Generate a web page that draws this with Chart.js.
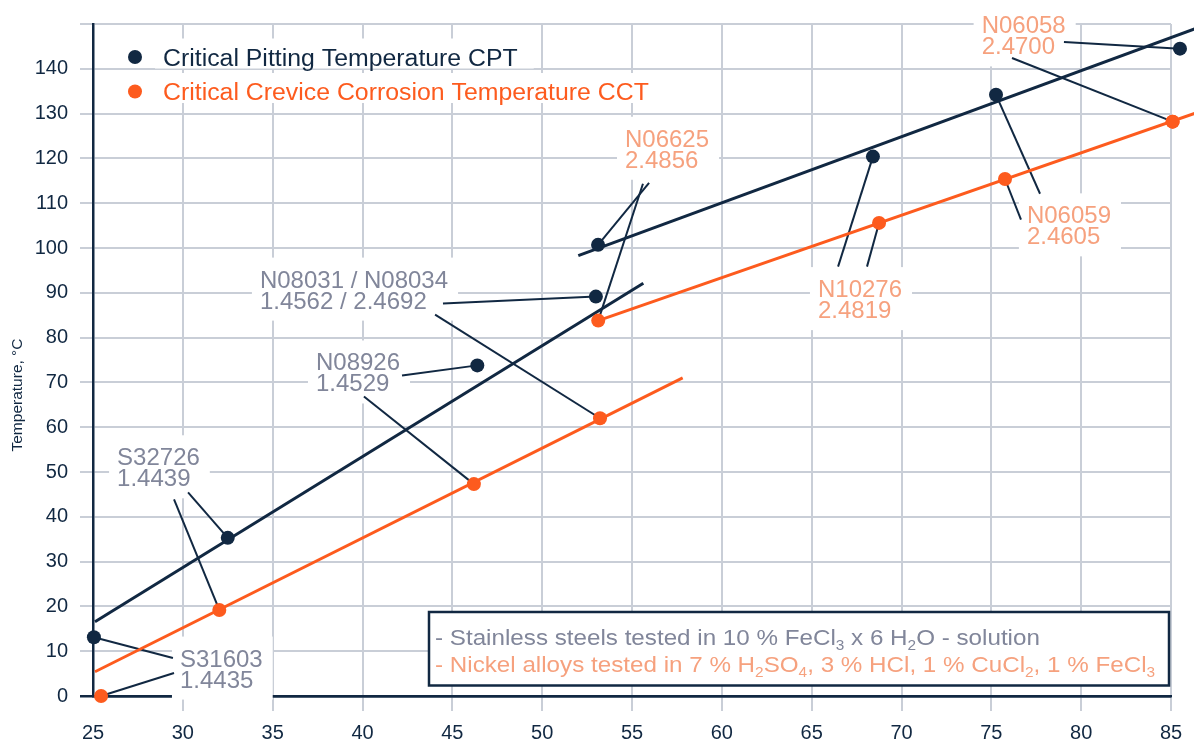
<!DOCTYPE html>
<html>
<head>
<meta charset="utf-8">
<title>CPT / CCT vs PREN</title>
<script src="https://cdn.jsdelivr.net/npm/chart.js@4/dist/chart.umd.min.js"></script>
<style>
  html, body { margin: 0; padding: 0; background: #fff; }
  #wrap { width: 1194px; height: 743px; position: relative; }
</style>
</head>
<body>
<div id="wrap"><canvas id="chart" width="1194" height="743"></canvas></div>
<script>
// ---- data -------------------------------------------------------------
// Grades in ascending PREN order
const gradeNames   = ['S31603', 'S32726', 'N08926', 'N08031 / N08034', 'N06625', 'N10276', 'N06059', 'N06058'];
const gradeNumbers = ['1.4435', '1.4439', '1.4529', '1.4562 / 2.4692', '2.4856', '2.4819', '2.4605', '2.4700'];

// Critical Pitting Temperature (°C) vs PREN
const cptPren = [25.05, 32.5, 46.39, 52.99, 53.11, 68.41, 75.26, 85.5];
const cptTemp = [13.1, 35.3, 73.8, 89.15, 100.7, 120.4, 134.2, 144.5];

// Critical Crevice Corrosion Temperature (°C) vs PREN
const cctPren = [25.45, 32.03, 46.2, 53.22, 53.12, 68.75, 75.76, 85.09];
const cctTemp = [0, 19.2, 47.3, 62.0, 83.8, 105.6, 115.4, 128.2];

// Trend lines: stainless steels and nickel alloys, [PREN, °C] end points
const cptTrendSteel  = [[25.11, 16.56], [55.63, 92.14]];
const cptTrendNickel = [[52.01, 98.29], [86.5, 149.2]];
const cctTrendSteel  = [[25.11, 5.42], [57.82, 71.03]];
const cctTrendNickel = [[53.12, 83.8], [86.5, 130.3]];

// Axis ticks
const xTicks = [25, 30, 35, 40, 45, 50, 55, 60, 65, 70, 75, 80, 85];
const yTicks = [0, 10, 20, 30, 40, 50, 60, 70, 80, 90, 100, 110, 120, 130, 140];

// ---- annotation layout (in axis units) ----------------------------------
// where each grade's caption sits: [PREN, °C] of first-line baseline
const captionAt = [
  [29.84, 6.57], [26.34, 51.5], [37.41, 72.66], [34.29, 91.16],
  [54.61, 122.6], [65.35, 89.04], [76.98, 105.5], [74.46, 147.9]
];
const captionTone = ['steel', 'steel', 'steel', 'steel', 'nickel', 'nickel', 'nickel', 'nickel'];
// leader line origins next to each caption: [to CPT point], [to CCT point]
const leaderFrom = [
  [[29.45, 8.47],  [29.51, 5.13]],
  [[30.29, 45.47], [29.51, 43.91]],
  [[42.20, 71.55], [40.08, 66.86]],
  [[44.48, 87.59], [44.04, 85.14]],
  [[55.95, 114.56],[55.61, 114.34]],
  [[66.47, 95.84], [68.08, 95.84]],
  [[77.71, 112.11],[76.65, 106.31]],
  [[79.04, 145.99],[76.15, 142.42]]
];

// ---- styling --------------------------------------------------------------
const NAVY = '#112842';
const ORANGE = '#fd5b1e';
const GRID = '#c9ced7';
const STEEL_TXT = '#81869a';
const NICKEL_TXT = '#f6a17e';
const FONT = '"Liberation Sans", Arial, Helvetica, sans-serif';

const pts = (xs, ys) => xs.map((x, i) => ({ x, y: ys[i] }));
const seg = arr => arr.map(([x, y]) => ({ x, y }));

const datasets = [];
datasets.push({
  label: 'Critical Pitting Temperature CPT',
  data: pts(cptPren, cptTemp),
  pointRadius: 7, pointBorderWidth: 0, pointBackgroundColor: NAVY,
  showLine: false, clip: false, order: 0
});
datasets.push({
  label: 'Critical Crevice Corrosion Temperature CCT',
  data: pts(cctPren, cctTemp),
  pointRadius: 7, pointBorderWidth: 0, pointBackgroundColor: ORANGE,
  showLine: false, clip: false, order: 0
});
[[cptTrendSteel, NAVY], [cptTrendNickel, NAVY], [cctTrendSteel, ORANGE], [cctTrendNickel, ORANGE]]
  .forEach(([line, col]) => datasets.push({
    data: seg(line), showLine: true, borderColor: col, borderWidth: 3,
    pointRadius: 0, clip: false, order: 1
  }));
leaderFrom.forEach((pair, i) => {
  datasets.push({
    data: [{ x: pair[0][0], y: pair[0][1] }, { x: cptPren[i], y: cptTemp[i] }],
    showLine: true, borderColor: NAVY, borderWidth: 2, pointRadius: 0, clip: false, order: 2
  });
  datasets.push({
    data: [{ x: pair[1][0], y: pair[1][1] }, { x: cctPren[i], y: cctTemp[i] }],
    showLine: true, borderColor: NAVY, borderWidth: 2, pointRadius: 0, clip: false, order: 2
  });
});

// text drawn a little wider than the base face
function wideText(ctx, text, x, y, sx) {
  ctx.save();
  ctx.translate(x, y);
  ctx.scale(sx, 1);
  ctx.fillText(text, 0, 0);
  ctx.restore();
  return ctx.measureText(text).width * sx;
}

// Legend lines and grade captions sit on white plates above the grid
const captionsPlugin = {
  id: 'captions',
  beforeDatasetsDraw(chart) {
    const { ctx, chartArea, scales } = chart;
    ctx.save();

    // axis title
    ctx.save();
    ctx.translate(18, 395);
    ctx.rotate(-Math.PI / 2);
    ctx.font = `15.5px ${FONT}`;
    ctx.fillStyle = NAVY;
    ctx.textAlign = 'center';
    ctx.textBaseline = 'middle';
    ctx.fillText('Temperature, °C', 0, 0);
    ctx.restore();

    // legend
    ctx.font = `23.5px ${FONT}`;
    ctx.textBaseline = 'alphabetic';
    const sx = 1.057;
    const legendItems = [
      { text: datasets[0].label, color: NAVY, base: chartArea.top + 41.5, dotY: chartArea.top + 33 },
      { text: datasets[1].label, color: ORANGE, base: chartArea.top + 76, dotY: chartArea.top + 67.5 }
    ];
    const lx = chartArea.left + 70;
    legendItems.forEach(it => {
      const w = ctx.measureText(it.text).width * sx;
      ctx.fillStyle = '#fff';
      ctx.fillRect(lx - 8, it.base - 27, w + 24, 30);
      ctx.fillStyle = it.color;
      wideText(ctx, it.text, lx, it.base, sx);
      ctx.beginPath();
      ctx.arc(chartArea.left + 42, it.dotY, 7, 0, Math.PI * 2);
      ctx.fill();
    });

    // grade captions
    ctx.font = `24px ${FONT}`;
    gradeNames.forEach((name, i) => {
      const x = scales.x.getPixelForValue(captionAt[i][0]);
      const y = scales.y.getPixelForValue(captionAt[i][1]);
      const lines = [name, gradeNumbers[i]];
      const w = Math.max(...lines.map(t => ctx.measureText(t).width));
      const lh = 21;
      ctx.fillStyle = '#fff';
      ctx.fillRect(x - 8, y - 30, w + 18, lh + 42);
      ctx.fillStyle = captionTone[i] === 'steel' ? STEEL_TXT : NICKEL_TXT;
      lines.forEach((t, k) => ctx.fillText(t, x, y + k * lh));
    });
    ctx.restore();
  },
  afterDatasetsDraw(chart) {
    const { ctx, chartArea } = chart;

    // measured points lying just past the last gridline
    const whole = { left: 0, top: 0, right: chart.width, bottom: chart.height };
    [0, 1].forEach(i => chart.getDatasetMeta(i).data.forEach(el => {
      if (el.x > chartArea.right || el.y > chartArea.bottom) el.draw(ctx, whole);
    }));

    // test-media note box, bottom right
    const right = chartArea.right - 2, bottom = chartArea.bottom - 10.5;
    const left = right - 740, top = bottom - 73.5;
    ctx.save();
    ctx.fillStyle = '#fff';
    ctx.fillRect(left, top, right - left, bottom - top);
    ctx.strokeStyle = NAVY;
    ctx.lineWidth = 2.5;
    ctx.strokeRect(left, top, right - left, bottom - top);

    const size = 22, sx = 1.1;
    const drawRich = (parts, x, y, color) => {
      ctx.fillStyle = color;
      parts.forEach(p => {
        const sub = Array.isArray(p);
        const t = sub ? p[0] : p;
        ctx.font = `${sub ? Math.round(size * 0.62) : size}px ${FONT}`;
        x += wideText(ctx, t, x, sub ? y + 5 : y, sx);
      });
    };
    ctx.textBaseline = 'alphabetic';
    drawRich(['- Stainless steels tested in 10 % FeCl', ['3'], ' x 6 H', ['2'], 'O - solution'],
      left + 6, top + 32.5, STEEL_TXT);
    drawRich(['- Nickel alloys tested in 7 % H', ['2'], 'SO', ['4'], ', 3 % HCl, 1 % CuCl', ['2'], ', 1 % FeCl', ['3']],
      left + 6, top + 60, NICKEL_TXT);
    ctx.restore();
  }
};

new Chart(document.getElementById('chart'), {
  type: 'scatter',
  data: { datasets },
  options: {
    responsive: false,
    animation: false,
    events: [],
    layout: { padding: { top: 23, right: 23, left: 0, bottom: 0 } },
    plugins: { legend: { display: false }, tooltip: { enabled: false } },
    scales: {
      x: {
        type: 'linear', min: xTicks[0], max: xTicks[xTicks.length - 1],
        afterFit(s) { s.height = 47; },
        afterBuildTicks(s) { s.ticks = xTicks.map(v => ({ value: v })); },
        ticks: { color: NAVY, font: { family: FONT, size: 20 }, padding: 10, maxRotation: 0, autoSkip: false },
        grid: {
          color: c => (c.tick && c.tick.value === xTicks[0]) ? 'rgba(0,0,0,0)' : GRID,
          lineWidth: 2, tickLength: 15, drawTicks: true
        },
        border: { color: NAVY, width: 2.5 }
      },
      y: {
        type: 'linear', min: 0, max: 150,
        afterFit(s) { s.width = 93; },
        afterBuildTicks(s) { s.ticks = yTicks.concat([150]).map(v => ({ value: v })); },
        ticks: {
          color: NAVY, font: { family: FONT, size: 20 }, padding: 12, autoSkip: false,
          callback: v => (yTicks.includes(v) ? String(v) : '')
        },
        grid: {
          color: c => (c.tick && c.tick.value === 0) ? NAVY : GRID,
          lineWidth: c => (c.tick && c.tick.value === 0) ? 2.5 : 2,
          tickLength: 13, drawTicks: true
        },
        border: { color: NAVY, width: 2.5 }
      }
    }
  },
  plugins: [captionsPlugin]
});
</script>
</body>
</html>
